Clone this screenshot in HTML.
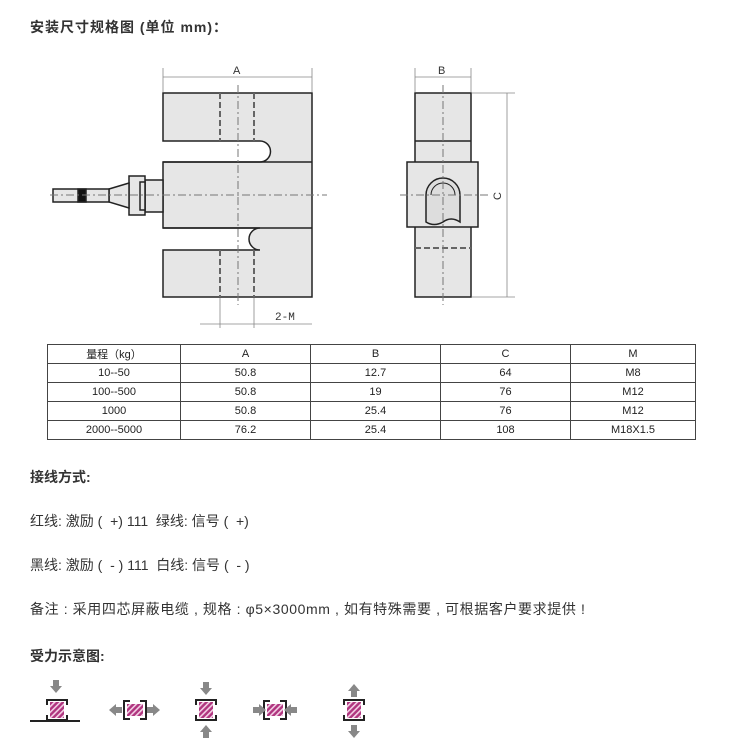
<!DOCTYPE html>
<html><head><meta charset="utf-8"><style>
body{margin:0;width:750px;height:750px;background:#fff;position:relative;font-family:"Liberation Sans","Noto Sans CJK SC",sans-serif;color:#333;overflow:hidden}
.t{position:absolute;font-size:14px;white-space:pre}
.b{font-weight:bold}
table{position:absolute;left:47px;top:344px;width:649px;border-collapse:collapse;font-size:11px;color:#222}
td{border:1px solid #444;height:18px;padding:0;text-align:center}
</style></head><body>
<div class="t b" style="left:30px;top:17px;font-size:14px;letter-spacing:1px">安装尺寸规格图 (单位 mm)：</div>
<svg style="position:absolute;left:0;top:0" width="750" height="340">
<g stroke="#222" stroke-width="1.5" fill="#e6e6e6">
<path d="M163 93H312V297H163V250H260A11 11 0 0 1 260 228H163V162H260A10 10 0 0 0 260 141H163Z"/>
<path d="M163 162H312M163 228H312" fill="none"/>
<rect x="145" y="180" width="18" height="32"/>
<rect x="129" y="176" width="16" height="39"/>
<rect x="140" y="182" width="5" height="28"/>
<path d="M109 189L129 183V208L109 202Z"/>
<rect x="53" y="189" width="56" height="13"/>
<rect x="78" y="189" width="8" height="13" fill="#111"/>
<rect x="415" y="93" width="56" height="204"/>
<path d="M415 141H471" fill="none"/>
<rect x="407" y="162" width="71" height="65"/>
<path d="M426 222V195A17 17 0 0 1 460 195V222Q451 216 443 222Q434 227 426 222Z" fill="#ddd"/>
<path d="M431 195A12 12 0 0 1 455 195" fill="none" stroke-width="1"/>
</g>
<g stroke="#666" stroke-width="2" stroke-dasharray="6,3" fill="none">
<path d="M220 93V141M254 93V141M220 250V297M254 250V297M415 248H471"/>
</g>
<g stroke="#777" stroke-width="1" stroke-dasharray="8,3,2,3" fill="none">
<path d="M238 85V305M50 195H327M443 85V305M400 195H490"/>
</g>
<g stroke="#888" stroke-width="0.8" fill="none">
<path d="M163 68V92M312 68V92M163 77H312M415 68V92M471 68V92M415 77H471"/>
<path d="M472 93H515M472 297H515M507 93V297"/>
<path d="M220 298V328M254 298V328M200 324H312"/>
</g>
<g font-size="11" fill="#333" font-family="Liberation Sans">
<text x="233" y="74">A</text><text x="438" y="74">B</text>
<text x="275" y="320" font-family="Liberation Mono">2-M</text>
<text x="492" y="199" transform="rotate(-90 497 195)">C</text>
</g>
</svg>
<table>
<tr><td style="width:132px">量程（kg）</td><td style="width:129px">A</td><td style="width:129px">B</td><td style="width:129px">C</td><td>M</td></tr>
<tr><td>10--50</td><td>50.8</td><td>12.7</td><td>64</td><td>M8</td></tr>
<tr><td>100--500</td><td>50.8</td><td>19</td><td>76</td><td>M12</td></tr>
<tr><td>1000</td><td>50.8</td><td>25.4</td><td>76</td><td>M12</td></tr>
<tr><td>2000--5000</td><td>76.2</td><td>25.4</td><td>108</td><td>M18X1.5</td></tr>
</table>
<div class="t b" style="left:30px;top:467px">接线方式:</div>
<div class="t" style="left:30px;top:511px">红线: 激励 (  +) 111  绿线: 信号 (  +)</div>
<div class="t" style="left:30px;top:555px">黑线: 激励 (  - ) 111  白线: 信号 (  - )</div>
<div class="t" style="left:30px;top:599px;letter-spacing:0.6px">备注 : 采用四芯屏蔽电缆 , 规格 : φ5×3000mm , 如有特殊需要 , 可根据客户要求提供 !</div>
<div class="t b" style="left:30px;top:646px">受力示意图:</div>
<svg style="position:absolute;left:0;top:670px" width="400" height="80">
<defs>
<pattern id="h" width="4" height="4" patternUnits="userSpaceOnUse" patternTransform="rotate(45)"><rect width="4" height="4" fill="#b0357f"/><rect width="1.6" height="4" fill="#f3d0e5"/></pattern>
<g id="bx"><rect x="-7" y="-8" width="14" height="16" fill="url(#h)"/><path d="M-10 -5V-10H10V-5M-10 5V10H10V5" stroke="#222" stroke-width="2" fill="none"/></g>
<g id="bxh"><rect x="-8" y="-6" width="16" height="12" fill="url(#h)"/><path d="M-5 -9H-11V9H-5M5 -9H11V9H5" stroke="#222" stroke-width="2" fill="none"/></g>
<path id="ad" d="M-3 -8H3V-2H6L0 5L-6 -2H-3Z" fill="#888"/>
</defs>
<use href="#ad" x="56" y="18"/><use href="#bx" x="57" y="40"/><path d="M30 51H80" stroke="#222" stroke-width="2"/>
<use href="#bxh" x="135" y="40"/><use href="#ad" transform="translate(114 40) rotate(90)"/><use href="#ad" transform="translate(155 40) rotate(-90)"/>
<use href="#bx" x="206" y="40"/><use href="#ad" x="206" y="20"/><use href="#ad" transform="translate(206 60) rotate(180)"/>
<use href="#bxh" x="275" y="40"/><use href="#ad" transform="translate(261 40) rotate(-90)"/><use href="#ad" transform="translate(289 40) rotate(90)"/>
<use href="#bx" x="354" y="40"/><use href="#ad" transform="translate(354 19) rotate(180)"/><use href="#ad" x="354" y="63"/>
</svg>
</body></html>
